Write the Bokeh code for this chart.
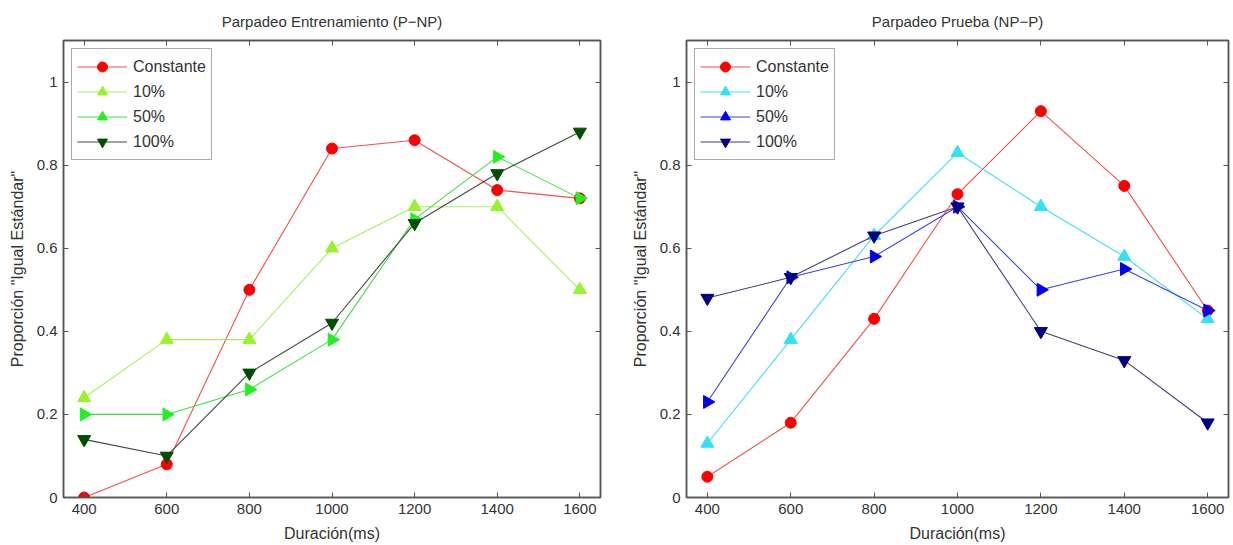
import math
from bokeh.plotting import figure
from bokeh.layouts import row
from bokeh.models import LinearAxis, FixedTicker, Legend, LegendItem, Range1d
from bokeh.embed import file_html
from bokeh.resources import INLINE

durations = [400, 600, 800, 1000, 1200, 1400, 1600]
series_names = ["Constante", "10%", "50%", "100%"]

# Left panel: Parpadeo Entrenamiento (P-NP)
left_constante = [0.00, 0.08, 0.50, 0.84, 0.86, 0.74, 0.72]
left_10 = [0.24, 0.38, 0.38, 0.60, 0.70, 0.70, 0.50]
left_50 = [0.20, 0.20, 0.26, 0.38, 0.67, 0.82, 0.72]
left_100 = [0.14, 0.10, 0.30, 0.42, 0.66, 0.78, 0.88]

# Right panel: Parpadeo Prueba (NP-P)
right_constante = [0.05, 0.18, 0.43, 0.73, 0.93, 0.75, 0.45]
right_10 = [0.13, 0.38, 0.63, 0.83, 0.70, 0.58, 0.43]
right_50 = [0.23, 0.53, 0.58, 0.70, 0.50, 0.55, 0.45]
right_100 = [0.48, 0.53, 0.63, 0.70, 0.40, 0.33, 0.18]

x_ticks = [400, 600, 800, 1000, 1200, 1400, 1600]
y_ticks = [0, 0.2, 0.4, 0.6, 0.8, 1.0]

FONT = "Liberation Sans"
TXT = "#333333"
AX = "#555555"

def make_panel(title, data, marker_colors, line_colors, width, bl, br):
    p = figure(width=width, height=544, output_backend="svg", toolbar_location=None,
               x_range=Range1d(350, 1650), y_range=Range1d(0, 1.1),
               min_border_left=bl, min_border_right=br, min_border_top=40, min_border_bottom=47)
    p.title.text = title
    p.title.align = "center"
    p.title.text_font = FONT
    p.title.text_font_size = "15px"
    p.title.text_font_style = "normal"
    p.title.text_color = TXT
    p.title.standoff = 21
    p.grid.visible = False
    p.outline_line_color = AX
    p.outline_line_width = 1.5
    p.background_fill_color = "white"
    p.border_fill_color = "white"

    for ax in p.xaxis + p.yaxis:
        ax.major_tick_in = 5
        ax.major_tick_out = 0
        ax.minor_tick_line_color = None
        ax.axis_line_color = AX
        ax.axis_line_width = 1.5
        ax.major_tick_line_color = AX
        ax.major_label_text_font = FONT
        ax.major_label_text_font_size = "15px"
        ax.major_label_text_color = TXT
        ax.axis_label_text_font = FONT
        ax.axis_label_text_font_size = "16px"
        ax.axis_label_text_font_style = "normal"
        ax.axis_label_text_color = TXT
    p.xaxis.ticker = FixedTicker(ticks=x_ticks)
    p.yaxis.ticker = FixedTicker(ticks=y_ticks)
    p.yaxis.major_label_overrides = {0: "0", 1: "1"}
    p.xaxis.axis_label = "Duración(ms)"
    p.yaxis.axis_label = "Proporción \"Igual Estándar\""
    p.xaxis.axis_label_standoff = 8
    p.yaxis.axis_label_standoff = 8
    p.xaxis.major_label_standoff = 6
    p.yaxis.major_label_standoff = 6

    top = LinearAxis(ticker=FixedTicker(ticks=x_ticks), major_label_text_color=None,
                     major_label_overrides={t: "" for t in x_ticks},
                     major_tick_in=5, major_tick_out=0, minor_tick_line_color=None,
                     axis_line_color=AX, axis_line_width=1.5, major_tick_line_color=AX,
                     major_label_standoff=0)
    right = LinearAxis(ticker=FixedTicker(ticks=y_ticks), major_label_text_color=None,
                       major_label_overrides={t: "" for t in y_ticks},
                       major_tick_in=5, major_tick_out=0, minor_tick_line_color=None,
                       axis_line_color=AX, axis_line_width=1.5, major_tick_line_color=AX,
                       major_label_standoff=0)
    p.add_layout(top, "above")
    p.add_layout(right, "right")

    markers = ["circle", "triangle", "triangle", "inverted_triangle"]
    angles = [0, 0, -math.pi / 2, 0]
    sizes = [11, 13, 13, 13]
    items = []
    for name, ys, mk, ang, sz, mc, lc in zip(series_names, data, markers, angles, sizes,
                                            marker_colors, line_colors):
        ln = p.line(durations, ys, line_color=lc, line_width=1.1)
        sc = p.scatter(durations, ys, marker=mk, angle=ang, size=sz,
                       fill_color=mc, line_color=mc)
        items.append(LegendItem(label=name, renderers=[ln, sc]))
    legend = Legend(items=items, location="top_left")
    legend.label_text_font = FONT
    legend.label_text_font_size = "16px"
    legend.label_text_color = TXT
    legend.glyph_width = 50
    legend.glyph_height = 25
    legend.label_height = 24
    legend.spacing = 0
    legend.padding = 5
    legend.margin = 8
    legend.border_line_color = AX
    legend.border_line_width = 1.5
    legend.label_standoff = 6
    p.add_layout(legend)
    return p

left = make_panel("Parpadeo Entrenamiento (P\u2212NP)",
                  [left_constante, left_10, left_50, left_100],
                  ["#ff0000", "#99f22e", "#22f022", "#004d00"],
                  ["#f05050", "#a6f060", "#40e040", "#404a40"],
                  628, 63, 28)
right = make_panel("Parpadeo Prueba (NP\u2212P)",
                   [right_constante, right_10, right_50, right_100],
                   ["#ff0000", "#33e0f5", "#0000f0", "#000080"],
                   ["#f05050", "#40e0f0", "#4040e0", "#404070"],
                   603, 50, 3)

page = row(left, right)
open("out.html", "w").write(file_html(page, INLINE))
